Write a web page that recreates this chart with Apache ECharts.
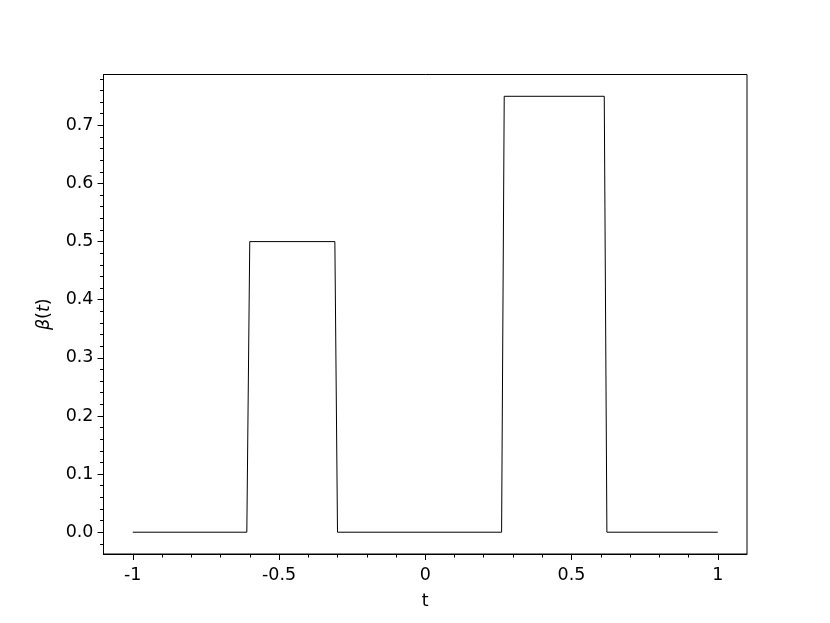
<!DOCTYPE html>
<html>
<head>
<meta charset="utf-8">
<script src="https://cdn.jsdelivr.net/npm/echarts@6/dist/echarts.min.js"></script>
<style>
html,body{margin:0;padding:0;background:#fff;}
#chart{width:830px;height:623px;}
</style>
</head>
<body>
<div id="chart"></div>
<script>
// Data
const tValues    = [-1, -0.61, -0.6, -0.309, -0.3, 0.261, 0.27, 0.612, 0.621, 1];
const betaValues = [0, 0, 0.5, 0.5, 0, 0, 0.75, 0.75, 0, 0];

// Tick positions / labels
const xMajorTicks = [-1, -0.5, 0, 0.5, 1];
const xMinorTicks = [-0.9, -0.8, -0.7, -0.6, -0.4, -0.3, -0.2, -0.1, 0.1, 0.2, 0.3, 0.4, 0.6, 0.7, 0.8, 0.9];
const yMajorTicks = [0, 0.1, 0.2, 0.3, 0.4, 0.5, 0.6, 0.7];
const yMinorTicks = [-0.02, 0.02, 0.04, 0.06, 0.08, 0.12, 0.14, 0.16, 0.18, 0.22, 0.24, 0.26, 0.28,
                     0.32, 0.34, 0.36, 0.38, 0.42, 0.44, 0.46, 0.48, 0.52, 0.54, 0.56, 0.58,
                     0.62, 0.64, 0.66, 0.68, 0.72, 0.74, 0.76, 0.78];

const xMin = -1.1, xMax = 1.1;
const yMin = -0.0375, yMax = 0.7875;

const FONT = 'DejaVu Sans';
const FS = 17.5;

const chart = echarts.init(document.getElementById('chart'), null, {renderer: 'canvas'});
const option = {
  animation: false,
  backgroundColor: '#fff',
  grid: {left: 103.5, right: 83, top: 74.5, bottom: 69, show: true, borderColor: '#000', borderWidth: 1, backgroundColor: 'transparent'},
  xAxis: [
    {
      type: 'value', min: xMin, max: xMax, position: 'bottom',
      name: 't', nameLocation: 'middle', nameGap: 38,
      nameTextStyle: {fontFamily: FONT, fontSize: FS, color: '#000'},
      axisLine: {show: true, onZero: false, lineStyle: {color: '#000', width: 1}},
      axisTick: {show: true, length: 6, lineStyle: {color: '#000', width: 1}, customValues: xMajorTicks},
      axisLabel: {show: true, margin: 12, fontFamily: FONT, fontSize: FS, color: '#000', customValues: xMajorTicks,
        formatter: v => String(v)},
      splitLine: {show: false}
    },
    {
      type: 'value', min: xMin, max: xMax, position: 'bottom',
      axisLine: {show: false, onZero: false},
      axisTick: {show: true, length: 3.5, lineStyle: {color: '#000', width: 1}, customValues: xMinorTicks},
      axisLabel: {show: false},
      splitLine: {show: false}
    }
  ],
  yAxis: [
    {
      type: 'value', min: yMin, max: yMax, position: 'left',
      name: '{i|β}({i|t})', nameLocation: 'middle', nameGap: 50,
      nameTextStyle: {fontFamily: FONT, fontSize: FS, color: '#000', rich: {i: {fontFamily: FONT, fontStyle: 'italic', fontSize: FS, color: '#000'}}},
      axisLine: {show: true, onZero: false, lineStyle: {color: '#000', width: 1}},
      axisTick: {show: true, length: 6, lineStyle: {color: '#000', width: 1}, customValues: yMajorTicks},
      axisLabel: {show: true, margin: 10, fontFamily: FONT, fontSize: FS, color: '#000', customValues: yMajorTicks,
        formatter: v => v.toFixed(1)},
      splitLine: {show: false}
    },
    {
      type: 'value', min: yMin, max: yMax, position: 'left',
      axisLine: {show: false, onZero: false},
      axisTick: {show: true, length: 3.5, lineStyle: {color: '#000', width: 1}, customValues: yMinorTicks},
      axisLabel: {show: false},
      splitLine: {show: false}
    }
  ],
  series: [{
    type: 'line',
    xAxisIndex: 0, yAxisIndex: 0,
    data: tValues.map((t, i) => [t, betaValues[i]]),
    showSymbol: false,
    lineStyle: {color: '#000', width: 1},
    silent: true
  }]
};
chart.setOption(option);
</script>
</body>
</html>
